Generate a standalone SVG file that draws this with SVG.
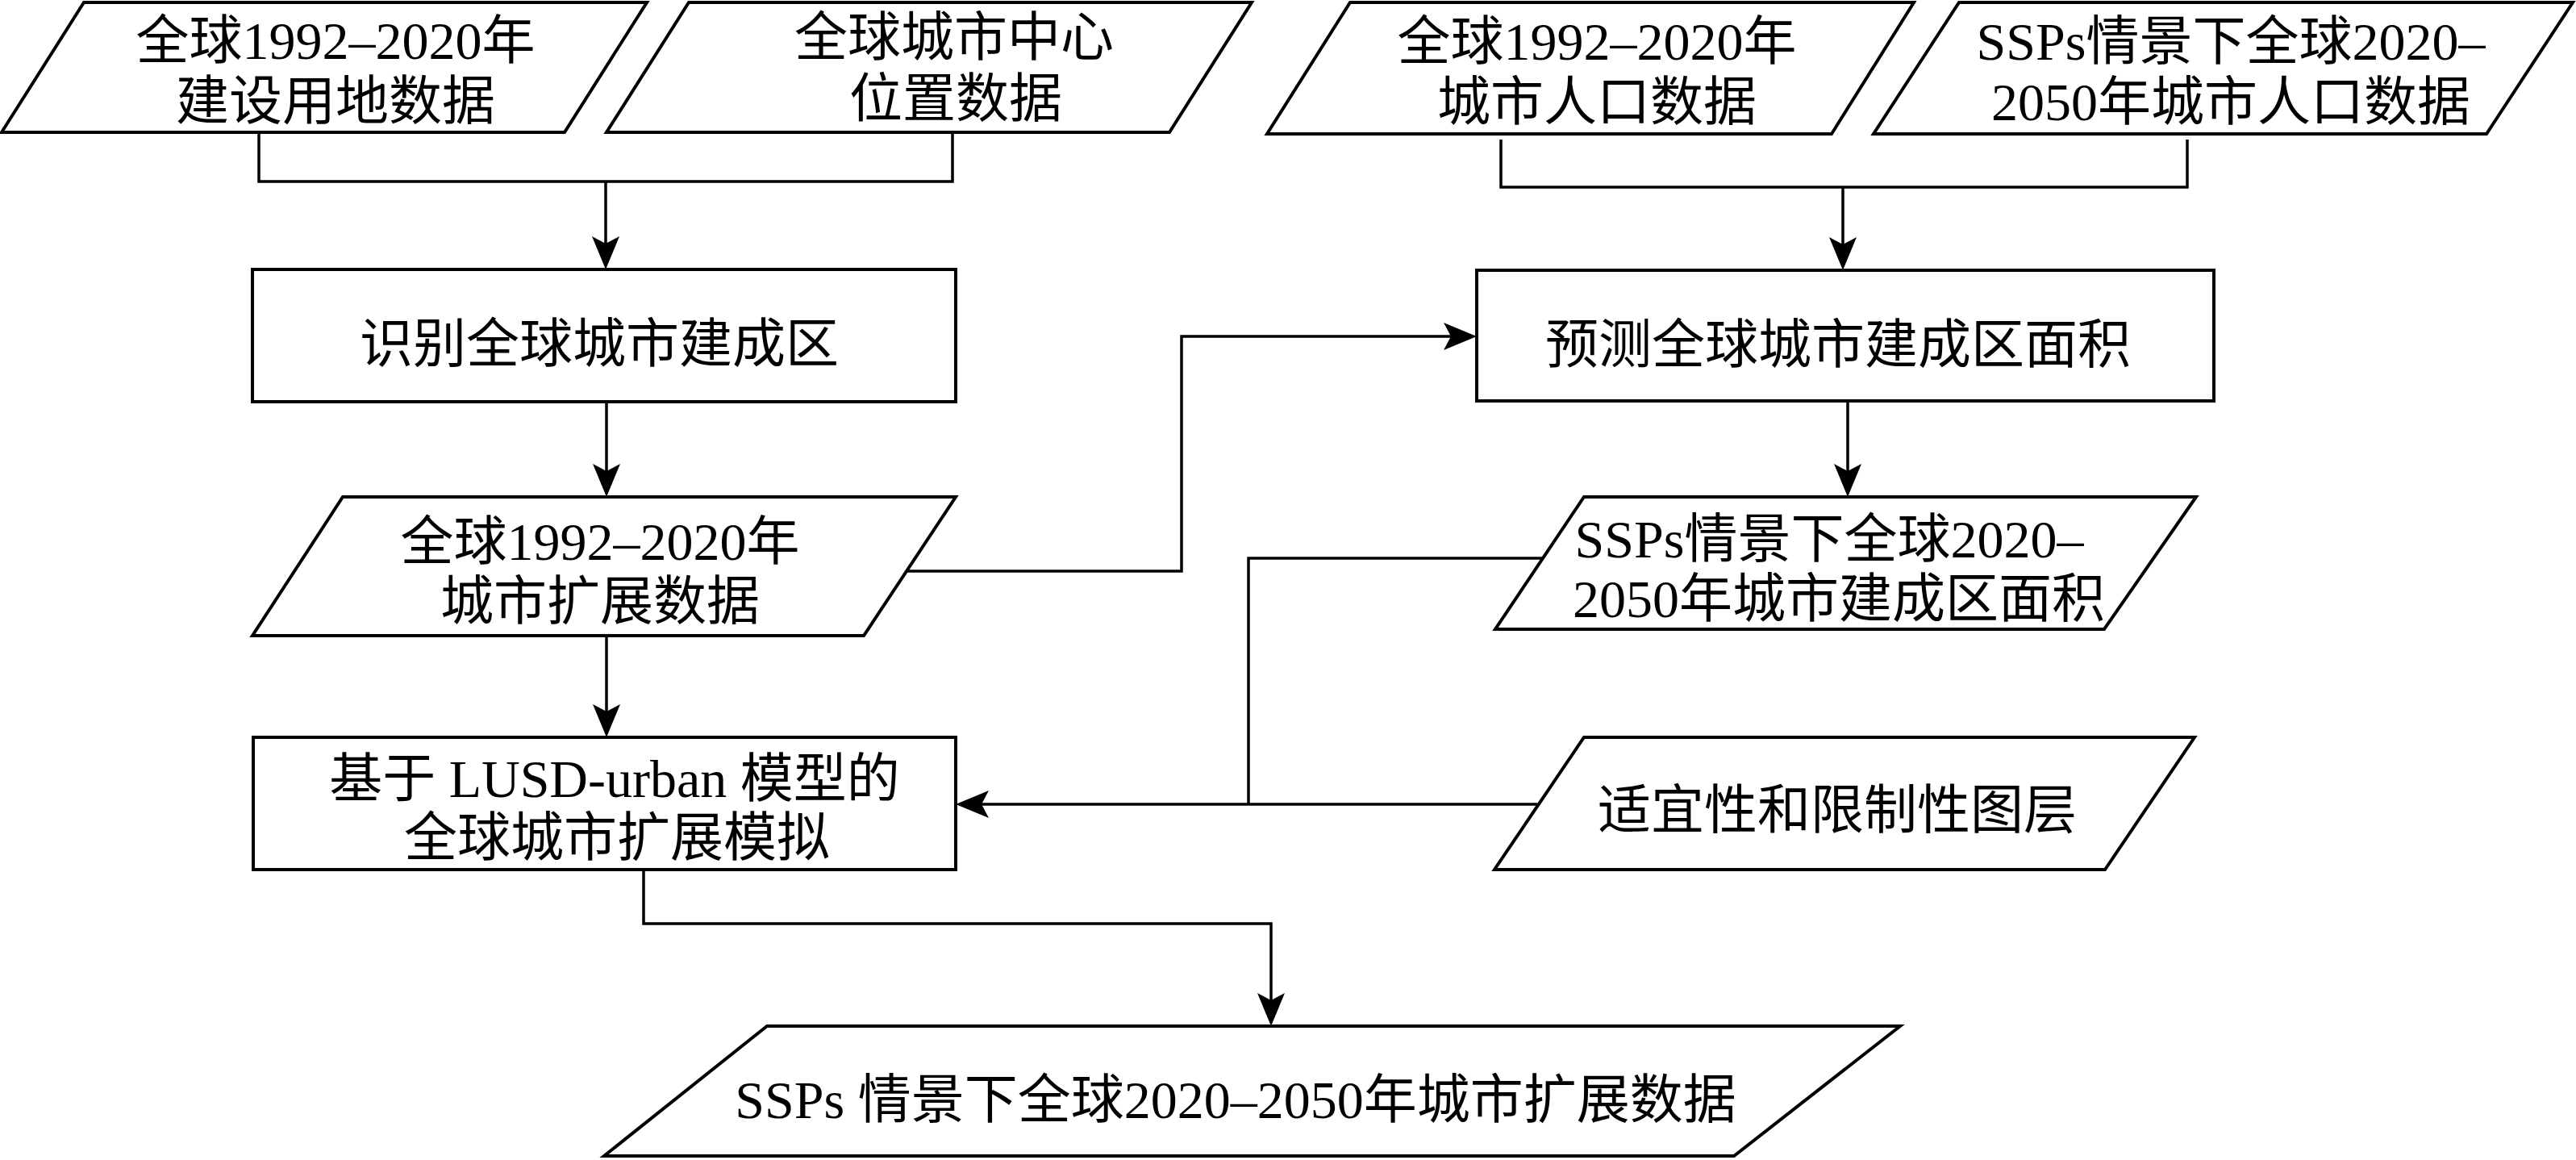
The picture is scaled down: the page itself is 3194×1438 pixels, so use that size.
<svg xmlns="http://www.w3.org/2000/svg" width="3194" height="1438" viewBox="0 0 3194 1438">
<style>
.box{fill:#fff;stroke:#000;stroke-width:4;stroke-linejoin:miter}
.con{fill:none;stroke:#000;stroke-width:3.5}
.arr{marker-end:url(#ah)}
text{font-family:"Liberation Serif","Noto Sans CJK SC",serif;font-size:66px;fill:#000;text-anchor:middle}
</style>
<defs>
<marker id="ah" markerUnits="userSpaceOnUse" viewBox="-42 -18 52 36" refX="-7" refY="0" markerWidth="52" markerHeight="36" orient="auto">
<path d="M0,0 L-41,-17 L-32,0 L-41,17 Z" fill="#000"/>
</marker>
</defs>
<rect width="3194" height="1438" fill="#fff"/>
<g id="connectors">
<polyline class="con" points="321,166 321,225 1181,225 1181,166"/>
<line class="con arr" x1="751" y1="225" x2="751" y2="327"/>
<polyline class="con" points="1861,173 1861,232 2712,232 2712,173"/>
<line class="con arr" x1="2285" y1="232" x2="2285" y2="328"/>
<line class="con arr" x1="752" y1="498" x2="752" y2="609"/>
<polyline class="con arr" points="1125,708 1465,708 1465,417 1824,417"/>
<line class="con arr" x1="2291" y1="497" x2="2291" y2="609"/>
<line class="con arr" x1="752" y1="788" x2="752" y2="907"/>
<polyline class="con" points="1912,692 1548,692 1548,997"/>
<line class="con arr" x1="1906" y1="997" x2="1192" y2="997"/>
<polyline class="con arr" points="798,1078 798,1145 1576,1145 1576,1265"/>
</g>
<g id="n1">
<polygon class="box" points="104,3 802,3 700,164 2,164"/>
<text x="416" y="73">全球1992–2020年</text>
<text x="416" y="148">建设用地数据</text>
</g>
<g id="n2">
<polygon class="box" points="854,3 1552,3 1450,164 752,164"/>
<text x="1183" y="69">全球城市中心</text>
<text x="1185" y="145">位置数据</text>
</g>
<g id="n3">
<polygon class="box" points="1674,3 2373,3 2271,166 1571,166"/>
<text x="1980" y="74">全球1992–2020年</text>
<text x="1980" y="149">城市人口数据</text>
</g>
<g id="n4">
<polygon class="box" points="2429,3 3190,3 3083,166 2323,166"/>
<text x="2766" y="74">SSPs情景下全球2020–</text>
<text x="2766" y="149">2050年城市人口数据</text>
</g>
<g id="n5">
<rect class="box" x="313" y="334" width="872" height="164"/>
<text x="743" y="449">识别全球城市建成区</text>
</g>
<g id="n6">
<rect class="box" x="1831" y="335" width="914" height="162"/>
<text x="2279" y="450">预测全球城市建成区面积</text>
</g>
<g id="n7">
<polygon class="box" points="425,616 1185,616 1071,788 313,788"/>
<text x="744" y="694">全球1992–2020年</text>
<text x="744" y="768">城市扩展数据</text>
</g>
<g id="n8">
<polygon class="box" points="1964,616 2723,616 2609,780 1854,780"/>
<text x="2268" y="691">SSPs情景下全球2020–</text>
<text x="2280" y="765">2050年城市建成区面积</text>
</g>
<g id="n9">
<rect class="box" x="314" y="914" width="871" height="164"/>
<text x="762" y="988">基于 LUSD-urban 模型的</text>
<text x="765" y="1061">全球城市扩展模拟</text>
</g>
<g id="n10">
<polygon class="box" points="1964,914 2721,914 2610,1078 1853,1078"/>
<text x="2278" y="1027">适宜性和限制性图层</text>
</g>
<g id="n11">
<polygon class="box" points="951,1272 2356,1272 2150,1433 749,1433"/>
<text x="1532" y="1386">SSPs 情景下全球2020–2050年城市扩展数据</text>
</g>
</svg>
